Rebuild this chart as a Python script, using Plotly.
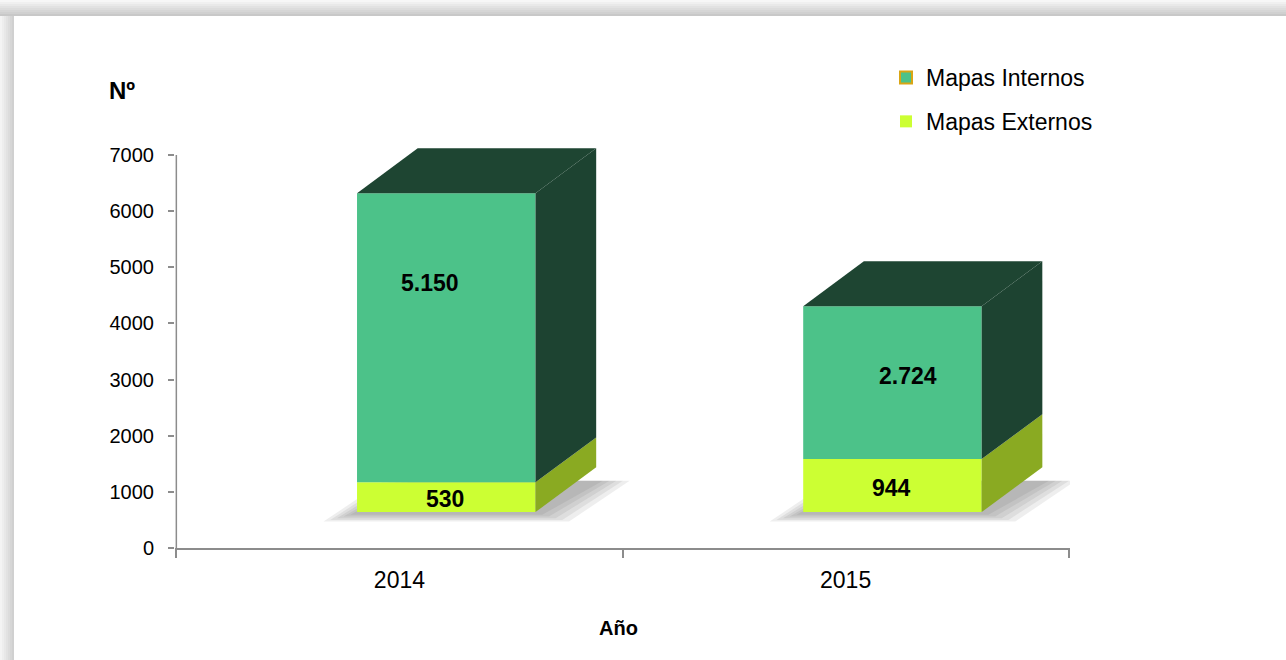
import plotly.graph_objects as go

# ---- data ----
years = ["2014", "2015"]
mapas_externos = [530, 944]
mapas_internos = [5150, 2724]
label_externos = ["530", "944"]
label_internos = ["5.150", "2.724"]
y_ticks = [0, 1000, 2000, 3000, 4000, 5000, 6000, 7000]

# ---- styling / 3D projection parameters ----
W, H = 1286, 660
L, R, T, B = 175, 216, 140, 112
PW, PH = W - L - R, H - T - B
YMAX = 7267
XR = [-0.503, 1.503]

FLOOR = 640       # vertical offset of the front face (3D perspective)
SHIFT = 0.105     # horizontal offset of front face from category centre
BW = 0.4          # bar width
DX, DY = 0.136, 800  # depth of the 3D box

C_INT = "#4cc289"
C_INT_DARK = "#1d4331"
C_EXT = "#ccff33"
C_EXT_DARK = "#8aaa22"
FONT = "Liberation Sans, Arial, sans-serif"
AXC = "#8c8c8c"

xs = list(range(len(years)))
base_ext = [FLOOR] * len(years)
base_int = [FLOOR + e for e in mapas_externos]

fig = go.Figure()

# front faces as bars
fig.add_trace(go.Bar(x=xs, y=mapas_externos, base=base_ext, width=BW,
                     offset=SHIFT - BW / 2, marker=dict(color=C_EXT, line=dict(width=0)),
                     showlegend=False, hoverinfo="skip"))
fig.add_trace(go.Bar(x=xs, y=mapas_internos, base=base_int, width=BW,
                     offset=SHIFT - BW / 2, marker=dict(color=C_INT, line=dict(width=0)),
                     showlegend=False, hoverinfo="skip"))

# legend entries
fig.add_trace(go.Bar(x=[None], y=[None], name="Mapas Internos", legendgroup="a",
                     marker=dict(color=C_INT, line=dict(color="#d9a514", width=2))))
fig.add_trace(go.Bar(x=[None], y=[None], name="Mapas Externos", legendgroup="b",
                     marker=dict(color=C_EXT, line=dict(width=0))))

shapes = []

def poly(pts, color, opacity=1.0, layer="above"):
    d = "M " + " L ".join(f"{x},{y}" for x, y in pts) + " Z"
    return dict(type="path", path=d, xref="x", yref="y", fillcolor=color,
                line=dict(width=0), opacity=opacity, layer=layer)

for i in xs:
    xl = i + SHIFT - BW / 2
    xr = i + SHIFT + BW / 2
    b0 = FLOOR
    b1 = FLOOR + mapas_externos[i]
    b2 = b1 + mapas_internos[i]
    # soft blurred shadow of the box footprint
    for k in range(5):
        gx = 0.075 - k * 0.015
        gy = 170 - k * 30
        shapes.append(poly([(xl - gx, b0 - gy), (xr + gx, b0 - gy),
                            (xr + DX + gx, b0 + DY * 0.7), (xl + DX - gx, b0 + DY * 0.7)],
                           "#444444", 0.09, "below"))
    # side faces
    shapes.append(poly([(xr, b0), (xr + DX, b0 + DY), (xr + DX, b1 + DY), (xr, b1)], C_EXT_DARK))
    shapes.append(poly([(xr, b1), (xr + DX, b1 + DY), (xr + DX, b2 + DY), (xr, b2)], C_INT_DARK))
    # top face
    shapes.append(poly([(xl, b2), (xl + DX, b2 + DY), (xr + DX, b2 + DY), (xr, b2)], "#1e4532"))

# y-axis line
shapes.append(dict(type="line", xref="x", yref="y", x0=-0.5, x1=-0.5, y0=0, y1=7000,
                   line=dict(color=AXC, width=1.5)))

# frame decoration (grey shadow border)
def px2paper_x(px):
    return (px - L) / PW

def px2paper_y(py):
    return (H - B - py) / PH

top_greys = ["#f7f7f7", "#f0f0f0", "#e9e9e9", "#e2e2e2", "#dcdcdc", "#d6d6d6", "#d0d0d0", "#c8c8c8"]
for k, c in enumerate(top_greys):
    shapes.append(dict(type="rect", xref="paper", yref="paper", x0=px2paper_x(0), x1=px2paper_x(W),
                       y0=px2paper_y(2 * k + 2), y1=px2paper_y(2 * k), fillcolor=c,
                       line=dict(width=0), layer="below"))
left_greys = ["#f4f4f4", "#eeeeee", "#e8e8e8", "#e2e2e2", "#dcdcdc", "#d6d6d6", "#d0d0d0"]
for k, c in enumerate(left_greys):
    shapes.append(dict(type="rect", xref="paper", yref="paper", x0=px2paper_x(2 * k), x1=px2paper_x(2 * k + 2),
                       y0=px2paper_y(H), y1=px2paper_y(16), fillcolor=c,
                       line=dict(width=0), layer="below"))

annotations = []
# data labels
lab_int_frac = [0.69, 0.54]
lab_int_dx = [-0.036, 0.034]
lab_ext_dx = [-0.003, -0.003]
for i in xs:
    xc = i + SHIFT
    annotations.append(dict(x=xc + lab_ext_dx[i], y=base_ext[i] + mapas_externos[i] * 0.45,
                            xref="x", yref="y", text=f"<b>{label_externos[i]}</b>", showarrow=False,
                            xanchor="center", yanchor="middle",
                            font=dict(size=23, color="black", family=FONT)))
    annotations.append(dict(x=xc + lab_int_dx[i], y=base_int[i] + mapas_internos[i] * lab_int_frac[i],
                            xref="x", yref="y", text=f"<b>{label_internos[i]}</b>", showarrow=False,
                            xanchor="center", yanchor="middle",
                            font=dict(size=23, color="black", family=FONT)))

annotations.append(dict(x=px2paper_x(122), y=px2paper_y(90), xref="paper", yref="paper",
                        text="<b>Nº</b>", showarrow=False, xanchor="center", yanchor="middle",
                        font=dict(size=24, color="black", family=FONT)))
annotations.append(dict(x=px2paper_x(618), y=px2paper_y(628), xref="paper", yref="paper",
                        text="<b>Año</b>", showarrow=False, xanchor="center", yanchor="middle",
                        font=dict(size=20, color="black", family=FONT)))

fig.update_layout(
    width=W, height=H,
    margin=dict(l=L, r=R, t=T, b=B, pad=0),
    paper_bgcolor="white", plot_bgcolor="rgba(0,0,0,0)",
    barmode="overlay",
    font=dict(family=FONT, color="black"),
    shapes=shapes, annotations=annotations,
    legend=dict(x=px2paper_x(886), y=px2paper_y(56), xanchor="left", yanchor="top",
                font=dict(size=23, color="black", family=FONT), tracegroupgap=11,
                bgcolor="rgba(0,0,0,0)", itemclick=False),
    xaxis=dict(range=XR, tickvals=xs, ticktext=years, ticks="", showgrid=False,
               zeroline=False, showline=True, linecolor=AXC, linewidth=2,
               tickfont=dict(size=23, color="black", family=FONT), ticklabelstandoff=10,
               minor=dict(tickvals=[-0.5, 0.5, 1.5], ticks="outside", ticklen=8,
                          tickcolor=AXC, tickwidth=1.5, showgrid=False)),
    yaxis=dict(range=[0, YMAX], tickvals=y_ticks, ticks="outside", ticklen=6,
               tickcolor=AXC, tickwidth=1.5, showgrid=False, zeroline=False, showline=False,
               tickfont=dict(size=20, color="black", family=FONT), ticklabelstandoff=10),
)

fig.write_html("out.html", config={"displayModeBar": False},
               post_script="document.body.style.margin='0';")
